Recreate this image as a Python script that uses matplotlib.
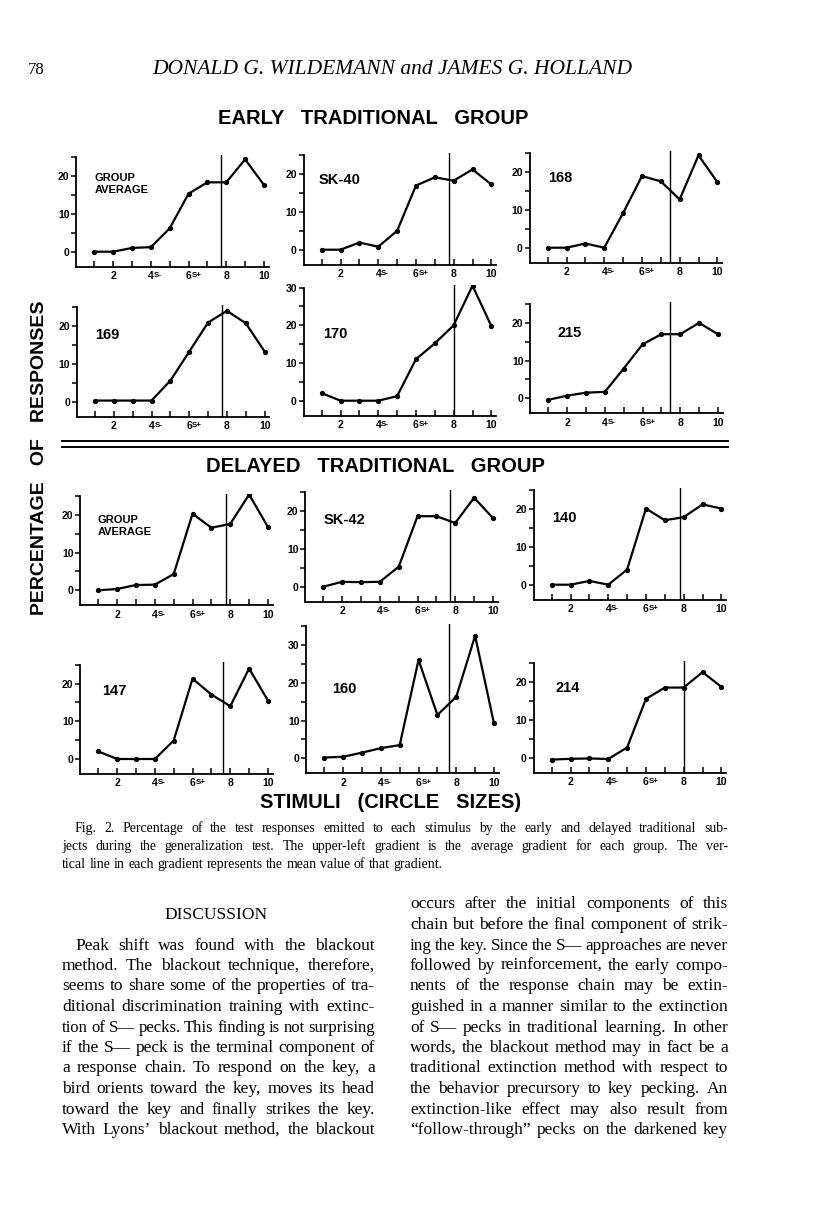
import matplotlib
matplotlib.use("Agg")
import matplotlib.pyplot as plt

# stimulus positions and the data of each gradient (percentage of responses)
stimuli = [1, 2, 3, 4, 5, 6, 7, 8, 9, 10]
x_labels = ["", "2", "", "4", "", "6", "", "8", "", "10"]

early_avg = [0, 0, 1.0, 1.2, 6.2, 15.4, 18.4, 18.4, 24.5, 17.7]
sk40 = [0, 0, 1.9, 0.8, 5.0, 17.0, 19.2, 18.3, 21.3, 17.3]
s168 = [0, 0, 1.1, 0, 9.2, 19.0, 17.6, 12.8, 24.5, 17.4]
s169 = [0.3, 0.3, 0.3, 0.3, 5.6, 13.3, 21.0, 24.1, 20.8, 13.3]
s170 = [2.0, 0, 0, 0, 1.2, 11.0, 15.2, 20.0, 30.5, 19.8]
s215 = [-0.4, 0.7, 1.5, 1.7, 7.9, 14.3, 17.0, 17.0, 20.0, 17.0]

delayed_avg = [0, 0.35, 1.4, 1.5, 4.3, 20.3, 16.6, 17.6, 25.4, 16.8]
sk42 = [0, 1.3, 1.2, 1.3, 5.3, 18.7, 18.7, 16.9, 23.6, 18.2]
s140 = [0, 0, 1.0, 0, 4.0, 20.2, 17.1, 17.9, 21.3, 20.2]
s147 = [2.0, 0, 0, 0, 4.9, 21.3, 17.1, 14.0, 24.0, 15.5]
s160 = [0.2, 0.4, 1.5, 2.7, 3.5, 26.1, 11.5, 16.3, 32.5, 9.3]
s214 = [-0.5, -0.3, -0.2, -0.35, 2.7, 15.6, 18.6, 18.6, 22.7, 18.8]

names = ["GROUP\nAVERAGE", "SK-40", "168", "169", "170", "215",
         "GROUP\nAVERAGE", "SK-42", "140", "147", "160", "214"]
series = [early_avg, sk40, s168, s169, s170, s215,
          delayed_avg, sk42, s140, s147, s160, s214]
means = [7.7, 7.75, 7.47, 7.73, 8.0, 7.47, 7.75, 7.73, 7.82, 7.6, 7.63, 8.0]
tops = [25, 25, 25, 25, 30, 25, 25, 25, 25, 25, 35, 25]

# layout: pixel of x=1 and of y=0 for each panel, label offsets
x1_px = [94.3, 321.7, 547.7, 95, 321.7, 548.3, 98.3, 323.3, 551.7, 98.3, 324.3, 551.7]
y0_px = [251.7, 249.7, 247.7, 401.7, 400.7, 398.3, 590.3, 586.7, 584.7, 759, 758.3, 757.7]
name_x = [1.0, 0.85, 1.0, 1.0, 1.07, 1.5, 0.95, 1.0, 1.0, 1.2, 1.4, 1.2]
name_y = [18.0, 18.5, 18.6, 17.7, 17.8, 17.3, 17.0, 17.7, 17.7, 18.0, 18.4, 18.4]

W, H = 816, 1207
SX, SY = 18.85, 3.77
SANS = "Liberation Sans"
SERIF = "Liberation Serif"

fig = plt.figure(figsize=(W / 100, H / 100), dpi=100)

def add_panel(i):
    xlo, xhi = 0.05, 10.25
    ylo, yhi = -4, tops[i] + 0.6
    left = x1_px[i] + (xlo - 1) * SX
    bottom = y0_px[i] - ylo * SY
    top = y0_px[i] - yhi * SY
    ax = fig.add_axes([left / W, 1 - bottom / H, (xhi - xlo) * SX / W, (bottom - top) / H])
    ax.plot(stimuli, series[i], color="black", lw=1.6, marker="o", ms=2.8)
    ax.axvline(means[i], color="black", lw=1.0)
    ax.set_xlim(xlo, xhi)
    ax.set_ylim(ylo, yhi)
    for s in ["top", "right"]:
        ax.spines[s].set_visible(False)
    ax.spines["left"].set_bounds(ylo, tops[i])
    ax.spines["left"].set_linewidth(1.3)
    ax.spines["bottom"].set_linewidth(1.3)
    ax.set_xticks(stimuli)
    ax.set_xticklabels(x_labels)
    ax.tick_params(axis="x", direction="in", length=4, width=1.1, pad=3,
                   labelsize=7.5)
    major = [v for v in [0, 10, 20, 30] if v <= tops[i]]
    ax.set_yticks(major)
    ax.set_yticks([v for v in [5, 15, 25, 35] if v <= tops[i]], minor=True)
    ax.tick_params(axis="y", which="both", direction="out", length=3.5, width=1.1,
                   pad=1.5, labelsize=7.5)
    for lab in ax.get_xticklabels() + ax.get_yticklabels():
        lab.set_fontfamily(SANS)
        lab.set_fontweight("bold")
    for xv, sup in [(4, "S-"), (6, "S+")]:
        ax.annotate(sup, xy=(xv, 0), xycoords=("data", "axes fraction"),
                    xytext=(2.0, -7.5), textcoords="offset points",
                    fontsize=5.8, fontweight="bold", family=SANS, va="baseline")
    small = "\n" in names[i]
    ax.text(name_x[i], name_y[i], names[i], fontsize=8 if small else 10.5,
            fontweight="bold", family=SANS, va="center", ha="left",
            linespacing=1.2)
    return ax

for i in range(12):
    add_panel(i)

# page furniture
fig.text(28 / W, 1 - 74 / H, "78", family=SERIF, fontsize=12, va="baseline")
fig.text(392 / W, 1 - 74 / H, "DONALD G. WILDEMANN and JAMES G. HOLLAND", family=SERIF,
         style="italic", fontsize=15.5, ha="center", va="baseline")
fig.text(373 / W, 1 - 118 / H, "EARLY   TRADITIONAL   GROUP", family=SANS,
         fontweight="bold", fontsize=14.5, ha="center", va="center")
fig.text(376 / W, 1 - 466 / H, "DELAYED   TRADITIONAL   GROUP", family=SANS,
         fontweight="bold", fontsize=14.5, ha="center", va="center")
fig.text(391 / W, 1 - 802 / H, "STIMULI   (CIRCLE   SIZES)", family=SANS,
         fontweight="bold", fontsize=14.5, ha="center", va="center")
fig.text(40 / W, 1 - 458 / H, "PERCENTAGE   OF   RESPONSES", family=SANS,
         fontweight="bold", fontsize=14, ha="center", va="center", rotation=90)
for yy in [441, 447]:
    fig.add_artist(plt.Line2D([62 / W, 728 / W], [1 - yy / H, 1 - yy / H],
                              color="black", lw=1.4))

def justified(line, x0, x1, y, size, just=True):
    words = line.split(" ")
    r = fig.canvas.get_renderer()
    while True:
        texts = [fig.text(0, 1 - y / H, w, family=SERIF, fontsize=size, va="baseline")
                 for w in words]
        widths = [t.get_window_extent(r).width for t in texts]
        space = size * 0.25 * 100 / 72
        if just and len(words) > 1:
            space = ((x1 - x0) - sum(widths)) / (len(words) - 1)
        if space >= 3.2 or size < 9:
            break
        for t in texts:
            t.remove()
        size -= 0.25
    x = x0
    for t, w in zip(texts, widths):
        t.set_x(x / W)
        x += w + space

caption = [
    "Fig. 2. Percentage of the test responses emitted to each stimulus by the early and delayed traditional sub-",
    "jects during the generalization test. The upper-left gradient is the average gradient for each group. The ver-",
    "tical line in each gradient represents the mean value of that gradient.",
]
justified(caption[0], 75, 728, 832, 10)
justified(caption[1], 62, 728, 850, 10)
justified(caption[2], 62, 728, 868, 10, just=False)

left_col = [
    "Peak shift was found with the blackout",
    "method. The blackout technique, therefore,",
    "seems to share some of the properties of tra-",
    "ditional discrimination training with extinc-",
    "tion of S\u2014 pecks. This finding is not surprising",
    "if the S\u2014 peck is the terminal component of",
    "a response chain. To respond on the key, a",
    "bird orients toward the key, moves its head",
    "toward the key and finally strikes the key.",
    "With Lyons\u2019 blackout method, the blackout",
]
right_col = [
    "occurs after the initial components of this",
    "chain but before the final component of strik-",
    "ing the key. Since the S\u2014 approaches are never",
    "followed by reinforcement, the early compo-",
    "nents of the response chain may be extin-",
    "guished in a manner similar to the extinction",
    "of S\u2014 pecks in traditional learning. In other",
    "words, the blackout method may in fact be a",
    "traditional extinction method with respect to",
    "the behavior precursory to key pecking. An",
    "extinction-like effect may also result from",
    "\u201cfollow-through\u201d pecks on the darkened key",
]
LEAD = 20.5
LAST = 1134
fig.text(216 / W, 1 - 919 / H, "DISCUSSION", family=SERIF, fontsize=12.5,
         ha="center", va="baseline")
for k, line in enumerate(left_col):
    justified(line, 62 if k else 75, 375, LAST - (len(left_col) - 1 - k) * LEAD, 12.5)
for k, line in enumerate(right_col):
    justified(line, 410, 728, LAST - (len(right_col) - 1 - k) * LEAD, 12.5)

fig.savefig("out.png", dpi=100)
